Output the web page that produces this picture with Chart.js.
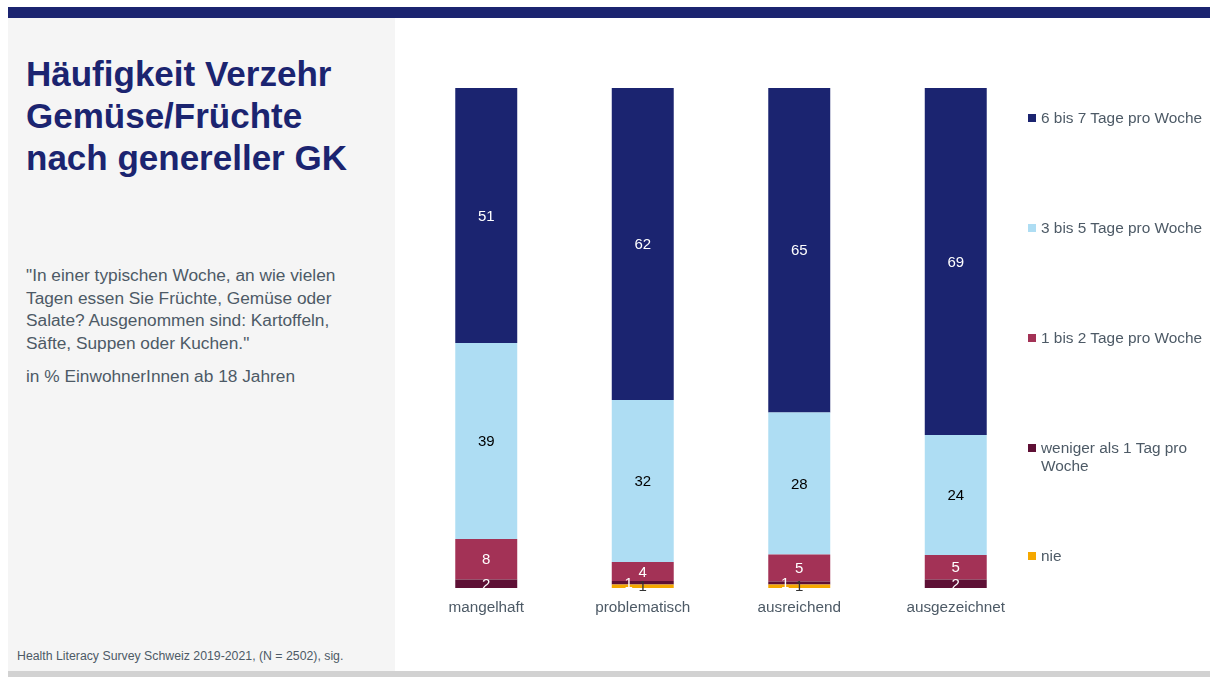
<!DOCTYPE html>
<html>
<head>
<meta charset="utf-8">
<script src="https://cdn.jsdelivr.net/npm/chart.js@4"></script>
<style>
  body { margin: 0; width: 1210px; height: 677px; position: relative; background: #fff; font-family: "Liberation Sans", Arial, sans-serif; overflow: hidden; }
  #band { position: absolute; left: 8px; top: 7px; width: 1202px; height: 11px; background: #1b2470; }
  #side { position: absolute; left: 8px; top: 18px; width: 387px; height: 653px; background: #f5f5f5; }
  #foot { position: absolute; left: 8px; top: 671px; width: 1202px; height: 6px; background: #d2d2d2; }
  h1 { position: absolute; left: 26px; top: 53px; margin: 0; font-size: 35px; line-height: 42px; color: #1b2470; font-weight: bold; }
  #q { position: absolute; left: 26px; top: 264px; width: 350px; margin: 0; font-size: 17.3px; line-height: 22.5px; color: #4d5a66; }
  #unit { position: absolute; left: 26px; top: 366px; margin: 0; font-size: 17.3px; color: #4d5a66; }
  #src { position: absolute; left: 17px; top: 649px; font-size: 12.3px; color: #4d5a66; }
  #chartBox { position: absolute; left: 408px; top: 20px; width: 626px; height: 608px; }
  .lg { position: absolute; left: 1028px; font-size: 15.4px; line-height: 18px; color: #4d5a66; width: 180px; }
  .lg span.sw { position: absolute; left: 0; top: 5px; width: 8px; height: 8px; }
  .lg span.tx { display: block; margin-left: 13px; }
</style>
</head>
<body>
<div id="band"></div>
<div id="side"></div>
<div id="foot"></div>
<h1>Häufigkeit Verzehr<br>Gemüse/Früchte<br>nach genereller GK</h1>
<p id="q">"In einer typischen Woche, an wie vielen Tagen essen Sie Früchte, Gemüse oder Salate? Ausgenommen sind: Kartoffeln, Säfte, Suppen oder Kuchen."</p>
<p id="unit">in % EinwohnerInnen ab 18 Jahren</p>
<div id="src">Health Literacy Survey Schweiz 2019-2021, (N = 2502), sig.</div>
<div id="chartBox"><canvas id="myChart"></canvas></div>
<div id="legend"></div>
<script>
const categories = ['mangelhaft', 'problematisch', 'ausreichend', 'ausgezeichnet'];

// stacked from bottom to top
const nie = [0, 0.7, 0.7, 0];
const wenigerAls1 = [1.7, 0.7, 0.6, 1.7];
const tage1bis2 = [8.1, 3.8, 5.4, 4.9];
const tage3bis5 = [39.2, 32.4, 28.4, 24.0];
const tage6bis7 = [51.0, 62.4, 64.9, 69.4];

const seriesNames = ['nie', 'weniger als 1 Tag pro Woche', '1 bis 2 Tage pro Woche', '3 bis 5 Tage pro Woche', '6 bis 7 Tage pro Woche'];
const seriesData = [nie, wenigerAls1, tage1bis2, tage3bis5, tage6bis7];
const seriesColors = ['#f5a800', '#5e1035', '#a33256', '#aeddf3', '#1b2470'];
const labelColors = ['#333333', '#ffffff', '#ffffff', '#000000', '#ffffff'];
const legendTops = [109, 219, 329, 439, 547]; // top to bottom

// legend (top to bottom: reverse of stack order)
const legendDiv = document.getElementById('legend');
for (let i = seriesNames.length - 1, k = 0; i >= 0; i--, k++) {
    const d = document.createElement('div');
    d.className = 'lg';
    d.style.top = legendTops[k] + 'px';
    d.innerHTML = '<span class="sw" style="background:' + seriesColors[i] + '"></span><span class="tx">' + seriesNames[i] + '</span>';
    legendDiv.appendChild(d);
}

const valueLabels = {
    id: 'valueLabels',
    afterDatasetsDraw(chart) {
        const ctx = chart.ctx;
        ctx.save();
        ctx.font = '15px "Liberation Sans", Arial, sans-serif';
        ctx.textAlign = 'center';
        ctx.textBaseline = 'middle';
        chart.data.datasets.forEach((ds, di) => {
            const meta = chart.getDatasetMeta(di);
            meta.data.forEach((bar, i) => {
                const v = ds.data[i];
                if (!v) return;
                let x = bar.x;
                const y = (bar.y + bar.base) / 2 + 1;
                const h = Math.abs(bar.base - bar.y);
                // small segment sitting on another small segment: shift left
                if (h < 12 && di > 0 && chart.data.datasets[di - 1].data[i] > 0) {
                    x -= 14;
                }
                ctx.fillStyle = labelColors[di];
                ctx.fillText(Math.round(v), x, y);
            });
        });
        ctx.restore();
    }
};

const ctx = document.getElementById('myChart').getContext('2d');
const chart = new Chart(ctx, {
    type: 'bar',
    data: {
        labels: categories,
        datasets: seriesData.map((d, i) => ({
            label: seriesNames[i],
            data: d,
            backgroundColor: seriesColors[i],
            borderWidth: 0,
            barPercentage: 0.396,
            categoryPercentage: 1.0
        }))
    },
    options: {
        responsive: true,
        maintainAspectRatio: false,
        animation: false,
        layout: { padding: { top: 68, bottom: 0, left: 0, right: 0 } },
        plugins: {
            legend: { display: false },
            tooltip: { enabled: false }
        },
        scales: {
            x: {
                stacked: true,
                grid: { display: false, drawTicks: false },
                border: { display: false },
                ticks: {
                    padding: 11,
                    color: '#4d5a66',
                    font: { family: '"Liberation Sans", Arial, sans-serif', size: 15.3 }
                },
                afterFit: (s) => { s.height = 40; }
            },
            y: {
                stacked: true,
                display: false,
                min: 0,
                max: 100
            }
        }
    },
    plugins: [valueLabels]
});
</script>
</body>
</html>
